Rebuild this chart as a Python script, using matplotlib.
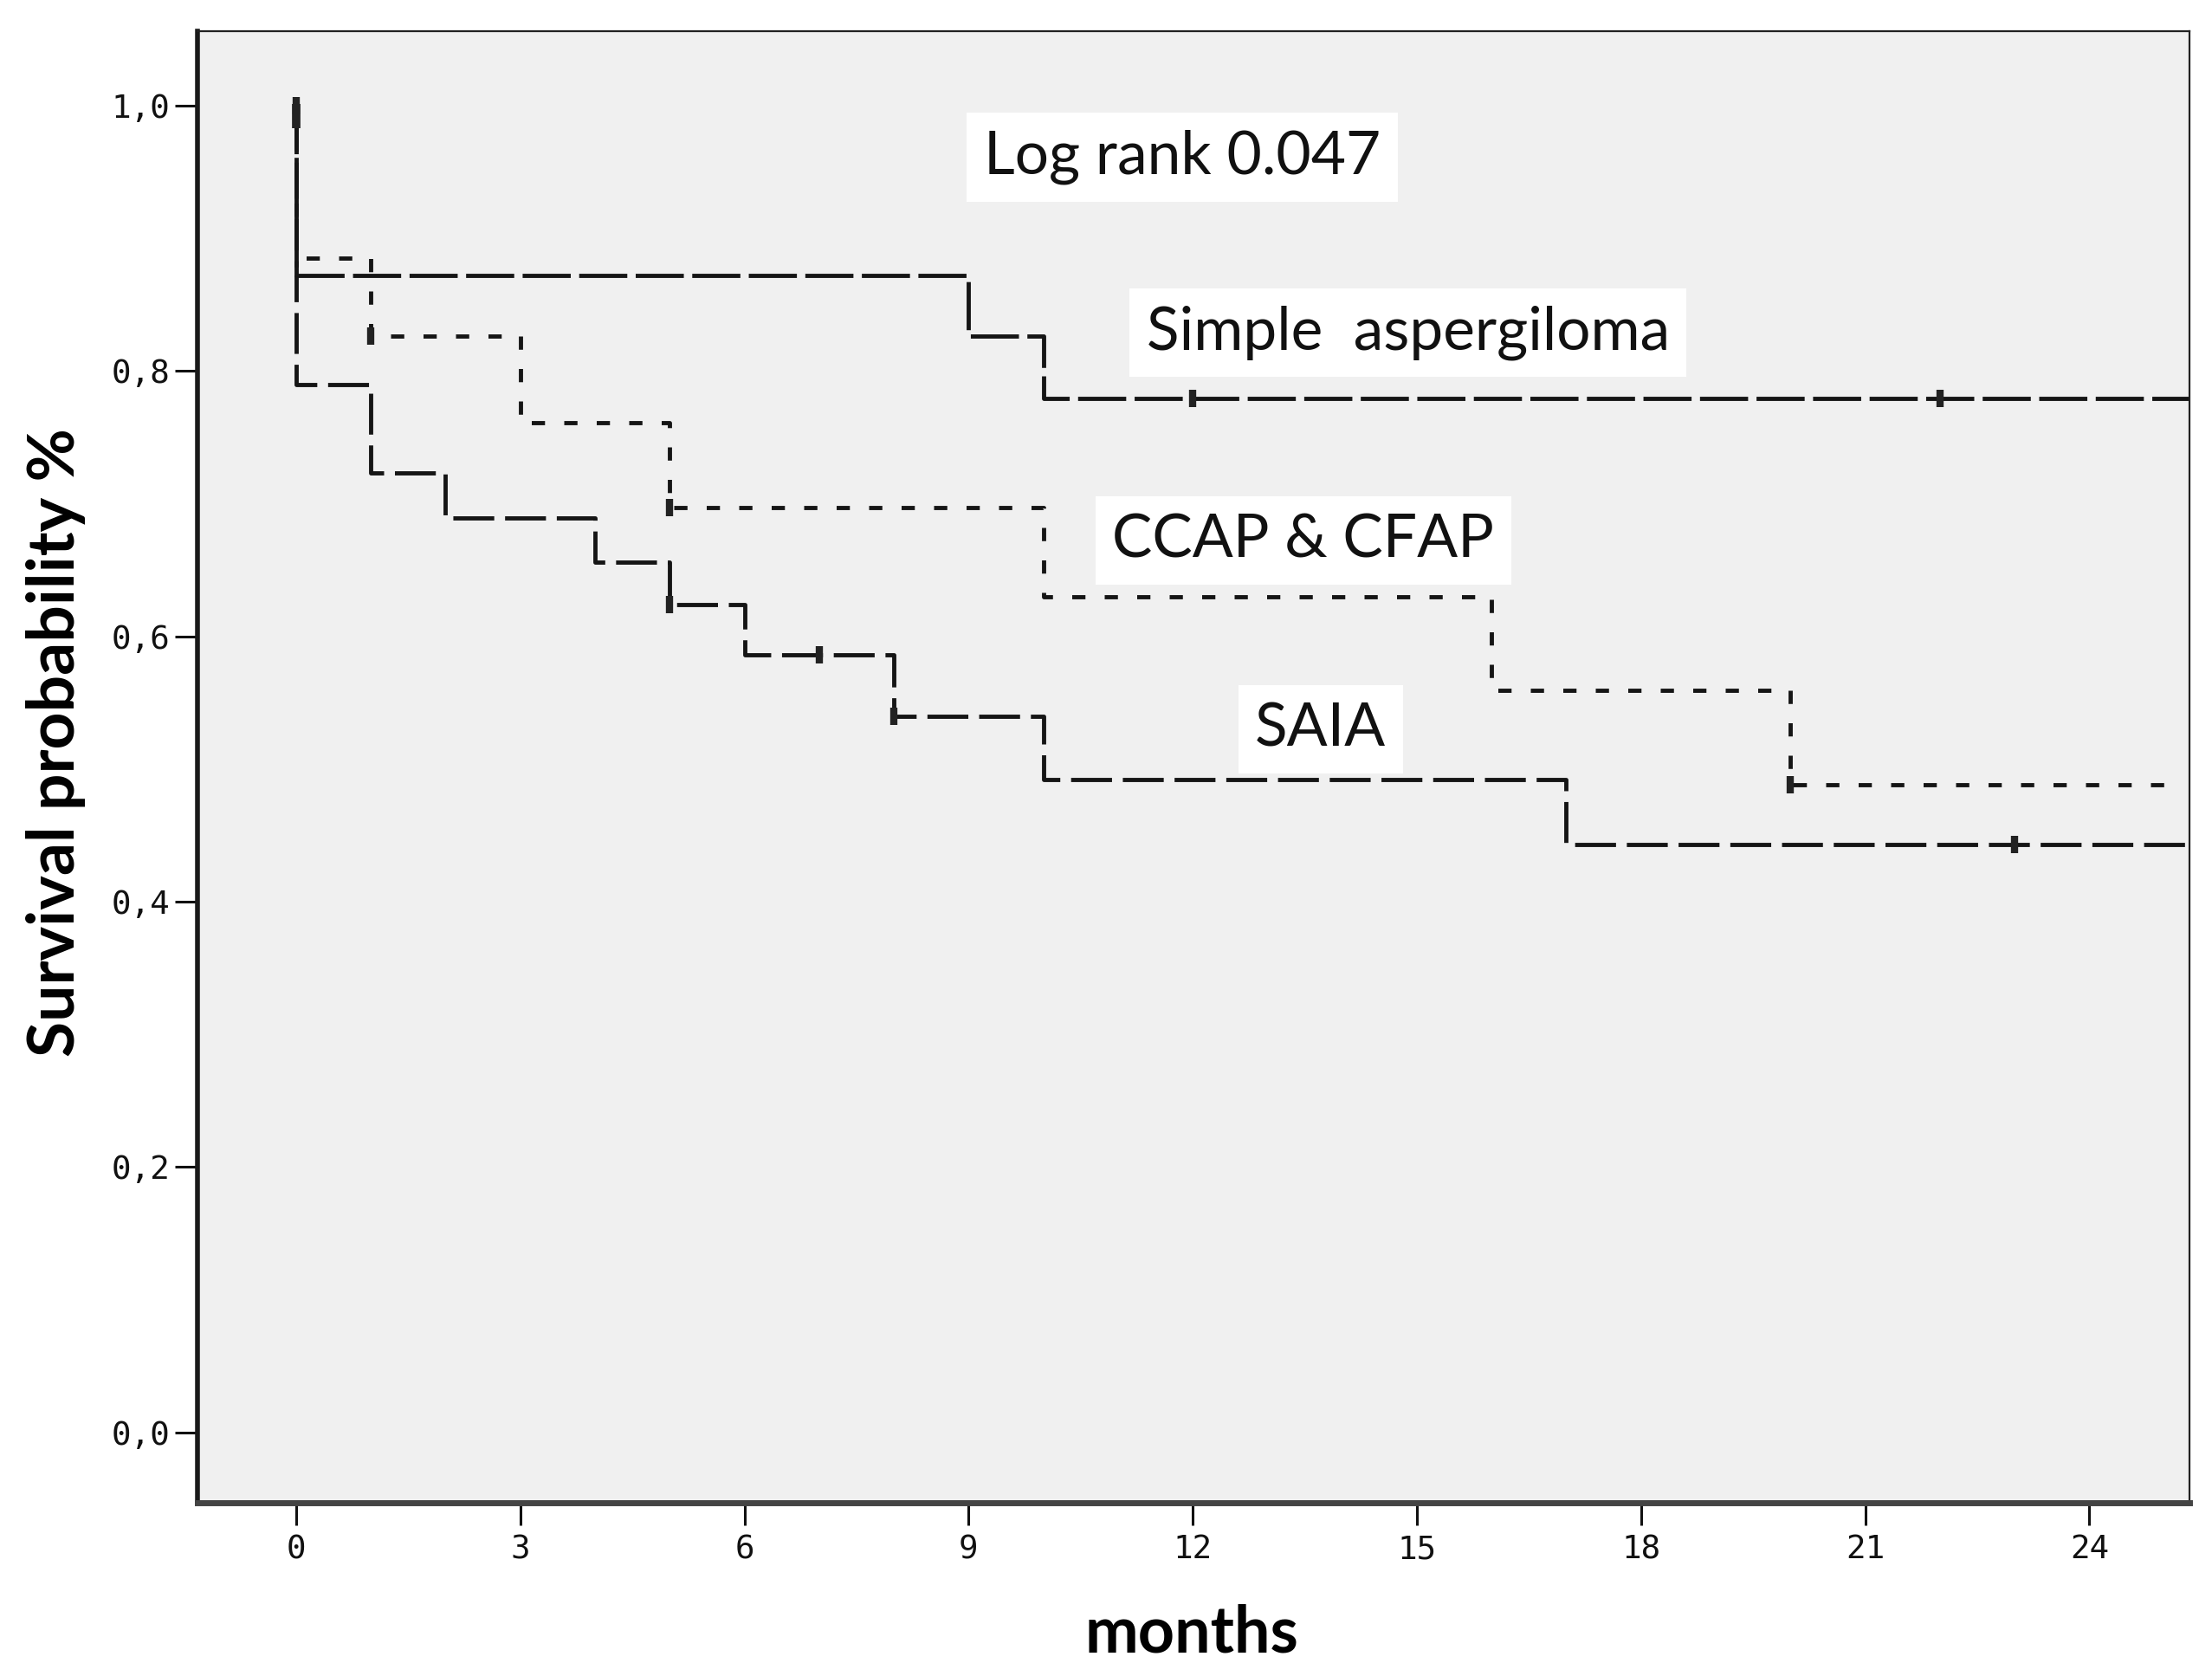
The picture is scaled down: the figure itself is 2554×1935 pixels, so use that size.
import matplotlib
matplotlib.use("Agg")
import matplotlib.pyplot as plt

# ---------------- data ----------------
simple_times = [0, 0, 9, 10, 26]
simple_surv = [1.0, 0.872, 0.826, 0.779, 0.779]
simple_cens_t = [0, 12, 22]
simple_cens_s = [1.0, 0.779, 0.779]

ccap_times = [0, 0, 1, 3, 5, 10, 16, 20, 25.2]
ccap_surv = [1.0, 0.885, 0.826, 0.761, 0.697, 0.630, 0.559, 0.488, 0.488]
ccap_cens_t = [1, 5, 20]
ccap_cens_s = [0.826, 0.697, 0.488]

saia_times = [0, 0, 1, 2, 4, 5, 6, 8, 10, 17, 26]
saia_surv = [1.0, 0.790, 0.723, 0.689, 0.656, 0.624, 0.586, 0.540, 0.492, 0.443, 0.443]
saia_cens_t = [5, 7, 8, 23]
saia_cens_s = [0.624, 0.586, 0.540, 0.443]

x_ticks = [0, 3, 6, 9, 12, 15, 18, 21, 24]
y_ticks = [0.0, 0.2, 0.4, 0.6, 0.8, 1.0]
y_tick_labels = ["0,0", "0,2", "0,4", "0,6", "0,8", "1,0"]

annotations = [
    ("Log rank 0.047", 11.86, 0.961),
    ("Simple  aspergiloma", 14.88, 0.829),
    ("CCAP & CFAP", 13.48, 0.672),
    ("SAIA", 13.71, 0.530),
]

# ---------------- figure ----------------
plt.rcParams["lines.scale_dashes"] = False
fig = plt.figure(figsize=(25.54, 19.35), dpi=100)
ax = fig.add_axes([228 / 2554, 1 - 1735 / 1935, 2300 / 2554, 1699 / 1935])
ax.set_facecolor("#f0f0f0")

line_kw = dict(where="post", color="#151515", lw=3.5)
ax.step(simple_times, simple_surv, dashes=(40, 7), **line_kw)
ax.step(ccap_times, ccap_surv, dashes=(11, 16), **line_kw)
ax.step(saia_times, saia_surv, dashes=(34, 9), **line_kw)

mk = dict(marker="|", linestyle="none", color="#222222", markersize=14, mew=6)
ax.plot(simple_cens_t, simple_cens_s, **mk)
ax.plot(ccap_cens_t, ccap_cens_s, **mk)
ax.plot(saia_cens_t, saia_cens_s, **mk)
ax.plot([0], [0.992], marker="|", color="#222222", markersize=20, mew=7, linestyle="none")

for txt, x, y in annotations:
    ax.text(x, y, txt, ha="center", va="center", fontsize=50, family="Lato",
            color="#111111",
            bbox=dict(boxstyle="square,pad=0.28", facecolor="white", edgecolor="none"))

ax.set_xlim(-1.32, 25.34)
ax.set_ylim(-0.053, 1.056)
ax.set_xticks(x_ticks)
ax.set_xticklabels([str(t) for t in x_ticks])
ax.set_yticks(y_ticks)
ax.set_yticklabels(y_tick_labels)

ax.tick_params(axis="both", direction="out", length=19, width=2.2, color="#111111",
               labelsize=27, labelcolor="#111111")
ax.tick_params(axis="x", pad=7)
ax.tick_params(axis="y", pad=4)
for lab in ax.get_xticklabels() + ax.get_yticklabels():
    lab.set_family("DejaVu Sans Mono")

for side in ["top", "right"]:
    ax.spines[side].set_linewidth(1.6)
    ax.spines[side].set_color("#222222")
ax.spines["left"].set_linewidth(4)
ax.spines["left"].set_color("#1a1a1a")
ax.spines["bottom"].set_linewidth(5)
ax.spines["bottom"].set_color("#444444")

fig.text(65 / 2554, 1 - 857 / 1935, "Survival probability %", rotation=90,
         ha="center", va="center", fontsize=54, fontweight="bold", family="Lato")
fig.text(1376 / 2554, 1 - 1886 / 1935, "months", ha="center", va="center",
         fontsize=53, fontweight="bold", family="Lato")

fig.savefig("out.png", dpi=100)
